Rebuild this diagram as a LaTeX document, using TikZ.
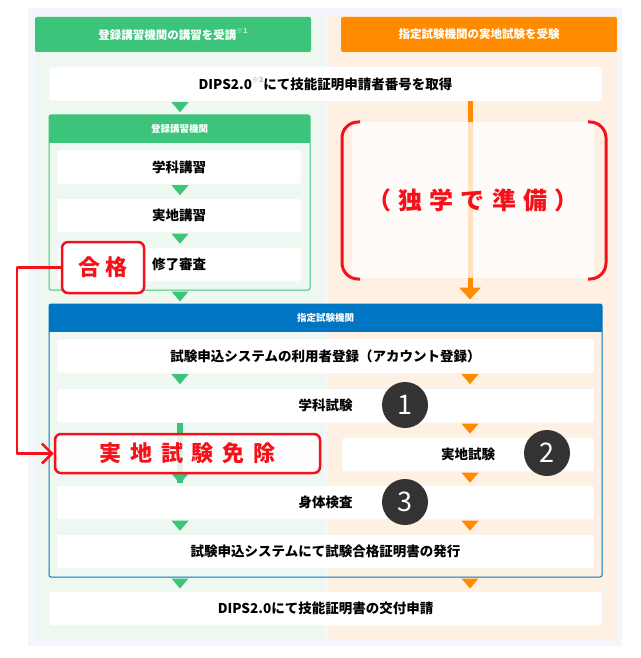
\documentclass[tikz,border=0pt]{standalone}
\usepackage{fontspec}
\setmainfont{Noto Sans CJK JP}
\usetikzlibrary{arrows.meta,positioning}

\definecolor{tgreen}{HTML}{3CC47A}
\definecolor{tgreenbg}{HTML}{EEF8F1}
\definecolor{torange}{HTML}{FF8C00}
\definecolor{torangebg}{HTML}{FFF0E4}
\definecolor{tblue}{HTML}{0075C2}
\definecolor{tred}{HTML}{F5101A}
\definecolor{tframe}{HTML}{F3F6FA}
\definecolor{tdark}{HTML}{333333}

\newcommand{\Note}[2]{\raisebox{0.55em}{\color{#1}\fontsize{7}{7}\selectfont #2}}

\tikzset{
  stepbox/.style={fill=white, draw=black!6, rounded corners=2pt, minimum height=34pt,
    inner sep=0pt, font=\bfseries\fontsize{13.5}{15}\selectfont},
  headbar/.style={text=white, rounded corners=2pt, minimum height=35pt, inner sep=0pt,
    font=\bfseries\fontsize{11.5}{14}\selectfont},
  groupbox/.style={line width=1pt, rounded corners=2pt, inner sep=0pt},
  grouphead/.style={text=white, minimum height=28pt, inner sep=0pt,
    font=\bfseries\fontsize{9.5}{12}\selectfont},
  redbox/.style={draw=tred, line width=2.5pt, rounded corners=6pt, fill=white,
    fill opacity=0.85, text opacity=1, text=tred, inner sep=0pt},
  numdot/.style={circle, fill=tdark, text=white, minimum size=46pt, inner sep=0pt,
    font=\fontsize{27}{27}\selectfont},
  downtri/.pic={\fill[pic actions] (-8.5,0) -- (8.5,0) -- (0,10) -- cycle;}
}

\begin{document}
\begin{tikzpicture}[x=1pt, y=-1pt, line join=round]
  \useasboundingbox (0,0) rectangle (640,658);

  % frame and the two columns
  \fill[tframe] (28,8) rectangle (622,646);
  \fill[tgreenbg] (35,15) rectangle (324,640);
  \fill[torangebg] (328,15) rectangle (617,640);

  \coordinate (gx) at (180,0); % green flow
  \coordinate (ox) at (470,0); % orange flow

  % column headers
  \node[headbar, fill=tgreen, minimum width=276pt] (ghead) at (173,34.5)
    {登録講習機関の講習を受講\Note{white!70!tgreen}{※1}};
  \node[headbar, fill=torange, minimum width=276pt] (ohead) at (479,34.5)
    {指定試験機関の実地試験を受験};

  \node[stepbox, minimum width=553pt] (dips) at (325.5,84)
    {DIPS2.0\Note{black!30}{※2}にて技能証明申請者番号を取得};

  % registered course
  \node[groupbox, draw=tgreen, fill=tgreenbg, minimum width=261pt, minimum height=175pt] (kosyu) at (179.5,202.5) {};
  \node[grouphead, fill=tgreen, minimum width=261pt, anchor=north] (kosyuhead) at (kosyu.north) {登録講習機関};
  \node[stepbox, minimum width=244pt] (gaku) at (179,167) {学科講習};
  \node[stepbox, minimum width=244pt] (jitsu) at (179,215.5) {実地講習};
  \node[stepbox, minimum width=244pt] (shuryo) at (179,264.5) {修了審査};

  \pic[fill=tgreen] at ([yshift=-1pt]dips.south -| gx) {downtri};
  \pic[fill=tgreen] at ([yshift=-1pt]gaku.south -| gx) {downtri};
  \pic[fill=tgreen] at ([yshift=-1pt]jitsu.south -| gx) {downtri};
  \pic[fill=tgreen] at ([yshift=-1pt]kosyu.south -| gx) {downtri};

  % designated body
  \node[groupbox, draw=tblue, minimum width=553pt, minimum height=273pt] (shitei) at (325.5,440.5) {};
  \node[grouphead, fill=tblue, minimum width=553pt, anchor=north] (shiteihead) at (shitei.north) {指定試験機関};

  % self study arrow
  \draw[torange, line width=5pt, -{Triangle[length=12pt,width=21pt]}]
    (dips.south -| ox) -- ([yshift=4pt]shitei.north -| ox);
  \fill[white, opacity=0.75] (352,122) rectangle (594,278);
  \draw[tred, line width=3pt, rounded corners=16pt] (360,122) -- (342,122) -- (342,279) -- (360,279);
  \draw[tred, line width=3pt, rounded corners=16pt] (588,122) -- (606,122) -- (606,279) -- (588,279);
  \node[text=tred, font=\bfseries\fontsize{24}{28}\selectfont\addfontfeature{LetterSpace=30}] (dokugaku) at (473,200) {（独学で準備）};

  \node[stepbox, minimum width=537pt] (app) at (325.5,356) {試験申込システムの利用者登録（アカウント登録）};
  \node[stepbox, minimum width=537pt] (gakushi) at (325.5,405.5) {学科試験};
  \node[stepbox, minimum width=252pt] (jitsushi) at (468,454.5) {実地試験};
  \node[stepbox, minimum width=537pt] (shintai) at (325.5,502.5) {身体検査};
  \node[stepbox, minimum width=537pt] (hakko) at (325.5,551.5) {試験申込システムにて試験合格証明書の発行};
  \node[stepbox, minimum width=553pt] (final) at (325.5,608.5) {DIPS2.0にて技能証明書の交付申請};

  \draw[tgreen, line width=6pt] (gakushi.south -| gx) -- ([yshift=2pt]shintai.north -| gx);

  \pic[fill=tgreen] at ([yshift=-1pt]app.south -| gx) {downtri};
  \pic[fill=torange] at ([yshift=-1pt]app.south -| ox) {downtri};
  \pic[fill=torange] at ([yshift=-1pt]gakushi.south -| ox) {downtri};
  \pic[fill=tgreen] at ([yshift=-2pt]jitsushi.south -| gx) {downtri};
  \pic[fill=torange] at ([yshift=-1pt]jitsushi.south -| ox) {downtri};
  \pic[fill=tgreen] at ([yshift=-1pt]shintai.south -| gx) {downtri};
  \pic[fill=torange] at ([yshift=-1pt]shintai.south -| ox) {downtri};
  \pic[fill=tgreen] at ([yshift=-1pt]shitei.south -| gx) {downtri};
  \pic[fill=torange] at ([yshift=-1pt]shitei.south -| ox) {downtri};

  % exam steps
  \node[numdot] (n1) at (405,405) {1};
  \node[numdot] (n2) at (547,453) {2};
  \node[numdot] (n3) at (405,502) {3};

  % pass and exemption
  \node[redbox, minimum width=265pt, minimum height=39pt,
    font=\bfseries\fontsize{22}{26}\selectfont\addfontfeature{LetterSpace=40}] (menjo) at (187.5,453.5) {実地試験免除};
  \node[redbox, fill opacity=1, minimum width=82pt, minimum height=51pt,
    font=\bfseries\fontsize{22}{26}\selectfont\addfontfeature{LetterSpace=20}] (pass) at (103,267.5) {合格};
  \draw[tred, line width=2.5pt, -{Straight Barb[length=10pt,width=20pt]}]
    (pass.west) -- ++(-44,0) |- (menjo.west);
\end{tikzpicture}
\end{document}
